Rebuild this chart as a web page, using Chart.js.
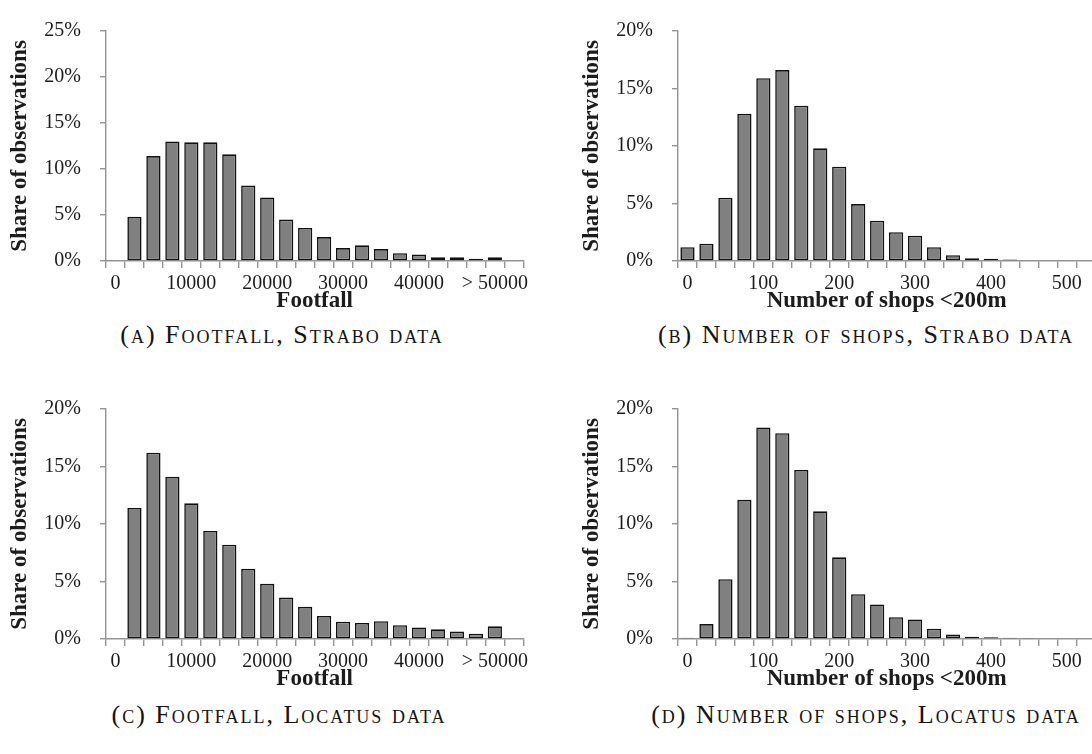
<!DOCTYPE html>
<html>
<head>
<meta charset="utf-8">
<script src="https://cdn.jsdelivr.net/npm/chart.js@4.4.1/dist/chart.umd.min.js"></script>
<style>
  html, body { margin: 0; padding: 0; background: #fff; width: 1092px; height: 754px; overflow: hidden; position: relative; }
  canvas { position: absolute; }
  .cap {
    position: absolute; width: 600px; text-align: center;
    font-family: "Liberation Serif", serif; font-variant: small-caps;
    font-size: 26px; letter-spacing: 2px; line-height: 30px;
    color: #141414; white-space: nowrap;
  }
</style>
</head>
<body>
<canvas id="pa" width="546" height="315" style="left:0px;top:0px"></canvas>
<canvas id="pb" width="546" height="315" style="left:572px;top:0px"></canvas>
<canvas id="pc" width="546" height="315" style="left:0px;top:378px"></canvas>
<canvas id="pd" width="546" height="315" style="left:572px;top:378px"></canvas>

<div class="cap" style="left:-18px;top:320px">(a) Footfall, Strabo data</div>
<div class="cap" style="left:566px;top:320px">(b) Number of shops, Strabo data</div>
<div class="cap" style="left:-21px;top:700px">(c) Footfall, Locatus data</div>
<div class="cap" style="left:566px;top:700px">(d) Number of shops, Locatus data</div>

<script>
// Histogram bins (lower bound of each bin)
const footfallBins = ['0', '2500', '5000', '7500', '10000', '12500', '15000', '17500', '20000', '22500',
  '25000', '27500', '30000', '32500', '35000', '37500', '40000', '42500', '45000', '47500', '50000', '52500'];
const shopBins = ['0', '25', '50', '75', '100', '125', '150', '175', '200', '225',
  '250', '275', '300', '325', '350', '375', '400', '425', '450', '475', '500', '525'];

// Labels printed under every fourth bin
const footfallTicks = ['0', '10000', '20000', '30000', '40000', '> 50000'];
const shopTicks = ['0', '100', '200', '300', '400', '500'];

// Share of observations per bin (%)
const straboFootfall = [null, 4.8, 11.4, 13.0, 12.9, 12.9, 11.6, 8.2, 6.9, 4.5, 3.6,
  2.6, 1.4, 1.7, 1.3, 0.85, 0.7, 0.4, 0.4, 0.25, 0.4, null];
const straboShops = [1.2, 1.5, 5.5, 12.8, 15.9, 16.6, 13.5, 9.8, 8.2, 4.95, 3.5,
  2.5, 2.2, 1.2, 0.5, 0.25, 0.2, 0.12, null, null, null, null];
const locatusFootfall = [null, 11.4, 16.2, 14.1, 11.8, 9.4, 8.2, 6.1, 4.8, 3.6, 2.8,
  2.0, 1.5, 1.4, 1.55, 1.2, 1.0, 0.84, 0.65, 0.46, 1.1, null];
const locatusShops = [0.1, 1.3, 5.2, 12.1, 18.4, 17.9, 14.7, 11.1, 7.1, 3.9, 3.0,
  1.9, 1.7, 0.9, 0.4, 0.2, 0.15, 0.1, 0.05, null, null, null];

const SERIF = '"Liberation Serif", "Times New Roman", serif';
const AXIS = '#949494';
const TXT = '#1c1c1c';

function histogram(id, bins, tickLabels, values, yMax, xTitle) {
  return new Chart(document.getElementById(id), {
    type: 'bar',
    data: {
      labels: bins,
      datasets: [{
        data: values,
        backgroundColor: '#808080',
        borderColor: '#111111',
        borderWidth: 1.6,
        borderSkipped: false,
        barPercentage: 0.75,
        categoryPercentage: 1.0
      }]
    },
    options: {
      responsive: false,
      animation: false,
      devicePixelRatio: 1,
      layout: { padding: { top: 15, right: 22.7, bottom: 0, left: 0 } },
      plugins: { legend: { display: false }, tooltip: { enabled: false } },
      scales: {
        x: {
          grid: { display: true, drawOnChartArea: false, drawTicks: true, tickLength: 7,
                  color: AXIS, lineWidth: 1.4, offset: true },
          border: { display: true, color: AXIS, width: 1.4 },
          ticks: {
            autoSkip: false, maxRotation: 0, minRotation: 0, padding: 4,
            color: TXT, font: { family: SERIF, size: 20 },
            callback: (v, i) => (i % 4 === 0 ? tickLabels[i / 4] : '')
          },
          title: { display: true, text: xTitle, color: TXT, padding: 0,
                   font: { family: SERIF, size: 23, weight: 'bold' } },
          afterFit(scale) { scale.height = 54; }
        },
        y: {
          min: 0, max: yMax,
          grid: { display: true, drawOnChartArea: false, drawTicks: true, tickLength: 6,
                  color: AXIS, lineWidth: 1.4 },
          border: { display: true, color: AXIS, width: 1.4 },
          ticks: { stepSize: 5, padding: 19, color: TXT, font: { family: SERIF, size: 20 },
                   callback: v => v + '%' },
          title: { display: true, text: 'Share of observations', color: TXT,
                   padding: { top: 6, bottom: 0 },
                   font: { family: SERIF, size: 23, weight: 'bold' } },
          afterFit(scale) { scale.width = 106; }
        }
      }
    }
  });
}

histogram('pa', footfallBins, footfallTicks, straboFootfall, 25, 'Footfall');
histogram('pb', shopBins, shopTicks, straboShops, 20, 'Number of shops <200m');
histogram('pc', footfallBins, footfallTicks, locatusFootfall, 20, 'Footfall');
histogram('pd', shopBins, shopTicks, locatusShops, 20, 'Number of shops <200m');
</script>
</body>
</html>
